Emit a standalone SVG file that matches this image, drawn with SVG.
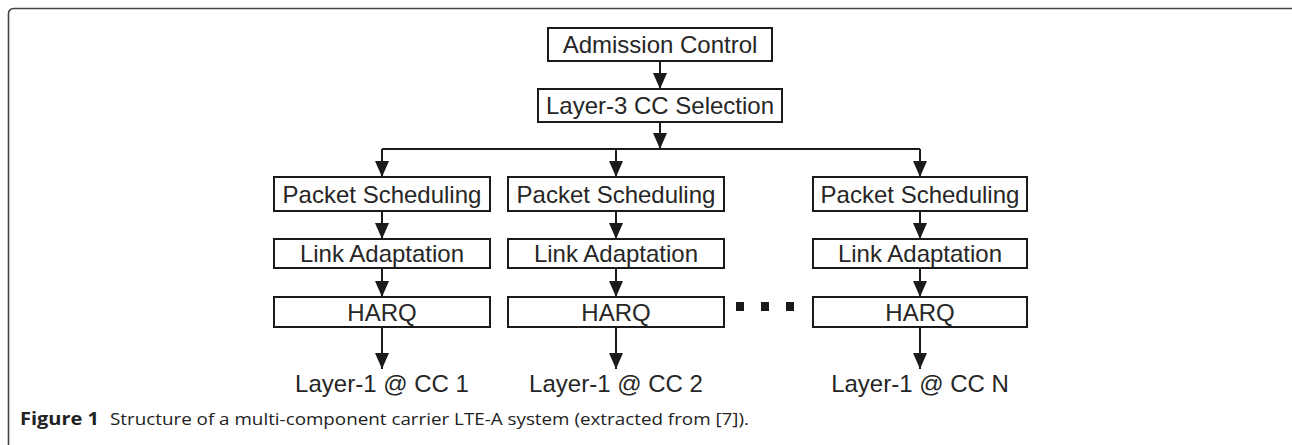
<svg xmlns="http://www.w3.org/2000/svg" width="1292" height="445" viewBox="0 0 1292 445">
  <defs>
    <marker id="arrow" viewBox="0 0 16 14" refX="16" refY="7" markerWidth="16" markerHeight="14" markerUnits="userSpaceOnUse" orient="auto">
      <path d="M0,0 L16,7 L0,14 Z" fill="#1a1a1a"/>
    </marker>
    <style>
      .box { fill: #ffffff; stroke: #1a1a1a; stroke-width: 2; }
      .lbl { font-family: "Liberation Sans", Arial, sans-serif; font-size: 24px; fill: #262626; text-anchor: middle; }
      .wire { fill: none; stroke: #1a1a1a; stroke-width: 2; }
      .arr { fill: none; stroke: #1a1a1a; stroke-width: 2; marker-end: url(#arrow); }
      .dot { fill: #1a1a1a; }
      .cap { font-family: "Open Sans", "Noto Sans", sans-serif; font-size: 17px; fill: #222222; }
      .cap-b { font-family: "Open Sans", "Noto Sans", sans-serif; font-size: 18px; font-weight: bold; fill: #222222; }
    </style>
  </defs>

  <rect width="1292" height="445" fill="#ffffff"/>

  <!-- figure frame -->
  <path d="M8.5,445 L8.5,14 Q8.5,8.5 14,8.5 L1292,8.5" fill="none" stroke="#444444" stroke-width="1.6"/>

  <!-- connectors -->
  <g id="connectors">
    <line class="arr" x1="660" y1="61" x2="660" y2="89"/>
    <line class="arr" x1="660" y1="122" x2="660" y2="149"/>
    <line class="wire" x1="382" y1="149" x2="920" y2="149"/>
    <line class="arr" x1="382" y1="149" x2="382" y2="177"/>
    <line class="arr" x1="616" y1="149" x2="616" y2="177"/>
    <line class="arr" x1="920" y1="149" x2="920" y2="177"/>

    <line class="arr" x1="382" y1="211" x2="382" y2="239"/>
    <line class="arr" x1="382" y1="268" x2="382" y2="297"/>
    <line class="arr" x1="382" y1="327" x2="382" y2="369"/>

    <line class="arr" x1="616" y1="211" x2="616" y2="239"/>
    <line class="arr" x1="616" y1="268" x2="616" y2="297"/>
    <line class="arr" x1="616" y1="327" x2="616" y2="369"/>

    <line class="arr" x1="920" y1="211" x2="920" y2="239"/>
    <line class="arr" x1="920" y1="268" x2="920" y2="297"/>
    <line class="arr" x1="920" y1="327" x2="920" y2="369"/>
  </g>

  <!-- top stages -->
  <g id="admission-control">
    <rect class="box" x="548" y="28" width="224" height="33"/>
    <text class="lbl" x="660" y="53">Admission Control</text>
  </g>
  <g id="cc-selection">
    <rect class="box" x="538" y="89" width="244" height="33"/>
    <text class="lbl" x="660" y="114">Layer-3 CC Selection</text>
  </g>

  <!-- carrier 1 -->
  <g id="ps-1">
    <rect class="box" x="274" y="177" width="216" height="34"/>
    <text class="lbl" x="382" y="203">Packet Scheduling</text>
  </g>
  <g id="la-1">
    <rect class="box" x="274" y="239" width="216" height="29"/>
    <text class="lbl" x="382" y="262">Link Adaptation</text>
  </g>
  <g id="harq-1">
    <rect class="box" x="274" y="297" width="216" height="30"/>
    <text class="lbl" x="382" y="321">HARQ</text>
  </g>
  <g id="l1-1">
    <text class="lbl" x="382" y="392">Layer-1 @ CC 1</text>
  </g>

  <!-- carrier 2 -->
  <g id="ps-2">
    <rect class="box" x="508" y="177" width="216" height="34"/>
    <text class="lbl" x="616" y="203">Packet Scheduling</text>
  </g>
  <g id="la-2">
    <rect class="box" x="508" y="239" width="216" height="29"/>
    <text class="lbl" x="616" y="262">Link Adaptation</text>
  </g>
  <g id="harq-2">
    <rect class="box" x="508" y="297" width="216" height="30"/>
    <text class="lbl" x="616" y="321">HARQ</text>
  </g>
  <g id="l1-2">
    <text class="lbl" x="616" y="392">Layer-1 @ CC 2</text>
  </g>

  <!-- ellipsis between carriers -->
  <g id="ellipsis">
    <rect class="dot" x="736" y="302" width="8" height="9"/>
    <rect class="dot" x="761" y="302" width="8" height="9"/>
    <rect class="dot" x="786" y="302" width="8" height="9"/>
  </g>

  <!-- carrier N -->
  <g id="ps-n">
    <rect class="box" x="813" y="177" width="214" height="34"/>
    <text class="lbl" x="920" y="203">Packet Scheduling</text>
  </g>
  <g id="la-n">
    <rect class="box" x="813" y="239" width="214" height="29"/>
    <text class="lbl" x="920" y="262">Link Adaptation</text>
  </g>
  <g id="harq-n">
    <rect class="box" x="813" y="297" width="214" height="30"/>
    <text class="lbl" x="920" y="321">HARQ</text>
  </g>
  <g id="l1-n">
    <text class="lbl" x="920" y="392">Layer-1 @ CC N</text>
  </g>

  <!-- caption -->
  <text class="cap-b" x="20" y="425" textLength="79" lengthAdjust="spacingAndGlyphs">Figure 1</text>
  <text class="cap" x="110" y="425" textLength="639" lengthAdjust="spacingAndGlyphs">Structure of a multi-component carrier LTE-A system (extracted from [7]).</text>
</svg>
